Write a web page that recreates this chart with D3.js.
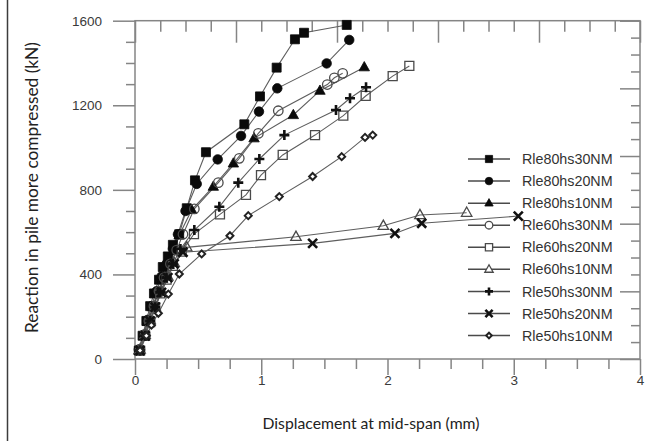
<!DOCTYPE html>
<html>
<head>
<meta charset="utf-8">
<script src="https://cdn.jsdelivr.net/npm/d3@7"></script>
<style>
html,body{margin:0;padding:0;background:#fff;}
svg{display:block;}
</style>
</head>
<body>
<svg id="chart" width="653" height="445"></svg>
<script>
// ---------------- DATA ----------------
const seriesNames = ["Rle80hs30NM","Rle80hs20NM","Rle80hs10NM","Rle60hs30NM","Rle60hs20NM","Rle60hs10NM","Rle50hs30NM","Rle50hs20NM","Rle50hs10NM"];
const markerTypes = ["square","circle","triangle","circle","square","triangle","plus","x","diamond"];
const markerFilled = [true,true,true,false,false,false,true,true,false];

const rle80hs30 = [[0.03,40],[0.06,110],[0.09,180],[0.12,250],[0.15,310],[0.19,375],[0.22,435],[0.26,485],[0.30,540],[0.35,590],[0.41,713],[0.475,845],[0.562,978],[0.866,1110],[0.99,1242],[1.122,1378],[1.267,1512],[1.339,1543],[1.677,1580]];
const rle80hs20 = [[0.03,45],[0.07,115],[0.10,185],[0.13,250],[0.17,320],[0.21,390],[0.25,450],[0.30,520],[0.34,590],[0.40,700],[0.489,828],[0.655,944],[0.84,1055],[0.982,1170],[1.127,1280],[1.518,1398],[1.697,1509]];
const rle80hs10 = [[0.03,40],[0.07,110],[0.10,175],[0.14,245],[0.18,315],[0.22,380],[0.27,445],[0.31,510],[0.35,585],[0.449,705],[0.62,815],[0.779,925],[0.943,1044],[1.254,1154],[1.465,1269],[1.816,1380]];
const rle60hs30 = [[0.04,45],[0.08,115],[0.11,180],[0.15,250],[0.19,320],[0.23,385],[0.28,450],[0.33,515],[0.38,590],[0.47,710],[0.66,834],[0.826,949],[0.977,1067],[1.135,1174],[1.523,1298],[1.579,1330],[1.645,1351]];
const rle60hs20 = [[0.04,40],[0.08,110],[0.12,175],[0.16,245],[0.20,310],[0.25,375],[0.30,440],[0.37,508],[0.467,591],[0.673,684],[0.879,776],[0.998,870],[1.17,965],[1.426,1059],[1.65,1151],[1.827,1244],[2.041,1338],[2.173,1386]];
const rle60hs10 = [[0.04,45],[0.08,115],[0.12,185],[0.16,250],[0.21,320],[0.26,390],[0.31,455],[0.41,528],[1.275,578],[1.967,630],[2.257,681],[2.627,692]];
const rle50hs30 = [[0.04,40],[0.08,110],[0.12,180],[0.16,245],[0.20,315],[0.25,385],[0.30,450],[0.36,520],[0.47,610],[0.668,720],[0.818,834],[0.985,946],[1.183,1059],[1.592,1178],[1.703,1233],[1.83,1285]];
const rle50hs20 = [[0.04,40],[0.08,110],[0.12,180],[0.16,245],[0.21,315],[0.26,385],[0.31,450],[0.38,505],[1.407,547],[2.059,594],[2.271,642],[3.036,676]];
const rle50hs10 = [[0.04,40],[0.09,110],[0.13,160],[0.185,216],[0.264,307],[0.351,402],[0.528,497],[0.752,583],[0.897,678],[1.143,768],[1.407,863],[1.637,957],[1.822,1048],[1.883,1059]];
const seriesData = [rle80hs30,rle80hs20,rle80hs10,rle60hs30,rle60hs20,rle60hs10,rle50hs30,rle50hs20,rle50hs10];

const xMajorTicks = [0,1,2,3,4];
const xMinorTicks = [0.25,0.5,0.75,1.25,1.5,1.75,2.25,2.5,2.75,3.25,3.5,3.75];
const yMajorTicks = [0,400,800,1200,1600];
const yMinorTicks = [100,200,300,500,600,700,900,1000,1100,1300,1400,1500];
// secondary (unlabelled) top/right axes
const topMajorTicks = [0,1,2,3,4,5];
const topMinorTicks = d3.range(0,5.001,0.25).filter(v=>v%1!==0);
const rightMajorTicks = [0,1,2,3,4,5];
const rightMinorTicks = d3.range(0,5.001,0.25).filter(v=>v%1!==0);

const xTitle = "Displacement at mid-span (mm)";
const yTitle = "Reaction in pile more compressed (kN)";

// ---------------- LAYOUT ----------------
const svg = d3.select("#chart");
const L = 135, R = 640, T = 20.7, B = 359;
const x = d3.scaleLinear().domain([0,4]).range([L,R]);
const y = d3.scaleLinear().domain([0,1600]).range([B,T]);
const x2 = d3.scaleLinear().domain([0,5]).range([L,R]);
const y2 = d3.scaleLinear().domain([0,5]).range([B,T]);

const axisColor = "#858585";
const textColor = "#3a3a3a";

// outer frame line on left
svg.append("line").attr("x1",7.5).attr("x2",7.5).attr("y1",0).attr("y2",441)
  .attr("stroke","#3c3c3c").attr("stroke-width",1.5);

function styleAxis(g){
  g.select(".domain").remove();
  g.selectAll(".tick line").attr("stroke",axisColor).attr("stroke-width",1.5);
}

// bottom axis
svg.append("g").attr("transform",`translate(0,${B})`)
  .call(d3.axisBottom(x).tickValues(xMajorTicks).tickSize(16).tickPadding(0).tickFormat(d3.format("d")))
  .call(styleAxis)
  .call(g=>g.selectAll("text").attr("fill",textColor).attr("font-family","Liberation Sans, Arial, sans-serif").attr("font-size",13.5));
svg.append("g").attr("transform",`translate(0,${B})`)
  .call(d3.axisBottom(x).tickValues(xMinorTicks).tickSize(10).tickFormat(""))
  .call(styleAxis);
// left axis
svg.append("g").attr("transform",`translate(${L},0)`)
  .call(d3.axisLeft(y).tickValues(yMajorTicks).tickSize(22).tickPadding(11).tickFormat(d3.format("d")))
  .call(styleAxis)
  .call(g=>g.selectAll("text").attr("fill",textColor).attr("font-family","Liberation Sans, Arial, sans-serif").attr("font-size",13.5));
svg.append("g").attr("transform",`translate(${L},0)`)
  .call(d3.axisLeft(y).tickValues(yMinorTicks).tickSize(9).tickFormat(""))
  .call(styleAxis);
// top axis (inward ticks)
svg.append("g").attr("transform",`translate(0,${T})`)
  .call(d3.axisBottom(x2).tickValues(topMajorTicks).tickSize(22).tickFormat(""))
  .call(styleAxis);
svg.append("g").attr("transform",`translate(0,${T})`)
  .call(d3.axisBottom(x2).tickValues(topMinorTicks).tickSize(11).tickFormat(""))
  .call(styleAxis);
// right axis (inward ticks)
svg.append("g").attr("transform",`translate(${R},0)`)
  .call(d3.axisLeft(y2).tickValues(rightMajorTicks).tickSize(20).tickFormat(""))
  .call(styleAxis);
svg.append("g").attr("transform",`translate(${R},0)`)
  .call(d3.axisLeft(y2).tickValues(rightMinorTicks).tickSize(9).tickFormat(""))
  .call(styleAxis);

// frame lines
svg.append("rect").attr("x",L).attr("y",T).attr("width",R-L).attr("height",B-T)
  .attr("fill","none").attr("stroke",axisColor).attr("stroke-width",1.5);

// ---------------- MARKERS ----------------
function markerPath(type, s){
  const h = s/2;
  switch(type){
    case "square": return `M${-h},${-h}H${h}V${h}H${-h}Z`;
    case "circle": { const p = d3.path(); p.arc(0,0,h,0,2*Math.PI); p.closePath(); return p.toString(); }
    case "triangle": return `M0,${-s*0.6}L${s*0.55},${s*0.38}L${-s*0.55},${s*0.38}Z`;
    case "plus": return `M${-h},0H${h}M0,${-h}V${h}`;
    case "x": return `M${-h},${-h}L${h},${h}M${h},${-h}L${-h},${h}`;
    case "diamond": return `M0,${-h}L${h},0L0,${h}L${-h},0Z`;
  }
}
const markerSize = {square:9,circle:9.5,triangle:9.5,plus:10,x:9,diamond:7};
function styleMarker(sel, type, filled){
  if(type==="plus"||type==="x"){
    sel.attr("fill","none").attr("stroke","#111").attr("stroke-width",2.6);
  } else if(filled){
    sel.attr("fill","#0a0a0a").attr("stroke","#0a0a0a").attr("stroke-width",0.8);
  } else if(type==="diamond"){
    sel.attr("fill","#fff").attr("stroke","#222").attr("stroke-width",2);
  } else {
    sel.attr("fill","none").attr("stroke","#4a4a4a").attr("stroke-width",1.3);
  }
}

const line = d3.line().x(d=>x(d[0])).y(d=>y(d[1]));
const plot = svg.append("g");
seriesData.forEach((data,i)=>{
  plot.append("path").datum(data).attr("d",line)
    .attr("fill","none").attr("stroke","#5e5e5e").attr("stroke-width",1.1);
});
seriesData.forEach((data,i)=>{
  const type = markerTypes[i];
  const sel = plot.selectAll(null).data(data).enter().append("path")
    .attr("transform",d=>`translate(${x(d[0])},${y(d[1])})`)
    .attr("d",markerPath(type, markerSize[type]));
  styleMarker(sel, type, markerFilled[i]);
});

// ---------------- LEGEND ----------------
const legY0 = 159, legStep = 22.07, legX1 = 468, legX2 = 510, legMX = 489, legTX = 522;
const leg = svg.append("g");
seriesNames.forEach((name,i)=>{
  const yy = legY0 + i*legStep;
  leg.append("line").attr("x1",legX1).attr("x2",legX2).attr("y1",yy).attr("y2",yy)
    .attr("stroke","#4a4a4a").attr("stroke-width",1.5);
  const type = markerTypes[i];
  const m = leg.append("path").attr("transform",`translate(${legMX},${yy})`)
    .attr("d",markerPath(type, markerSize[type]*0.8));
  styleMarker(m, type, markerFilled[i]);
  if(!markerFilled[i] && type!=="diamond") m.attr("fill","#fff");
  leg.append("text").attr("x",legTX).attr("y",yy).attr("dy","0.36em")
    .attr("font-family","Liberation Sans, Arial, sans-serif").attr("font-size",14.3)
    .attr("fill","#333").text(name);
});

// ---------------- TITLES ----------------
function fitText(t, target){
  const len = t.node().getComputedTextLength();
  const fs = parseFloat(t.attr("font-size"));
  t.attr("font-size", (fs*target/len).toFixed(2));
}
const xt = svg.append("text").attr("x",371).attr("y",429).attr("text-anchor","middle")
  .attr("font-family","Lato, 'Open Sans', sans-serif").attr("font-size",14).attr("fill","#222").text(xTitle);
fitText(xt, 217);
const yt = svg.append("text").attr("transform","translate(38,187.5) rotate(-90)").attr("text-anchor","middle")
  .attr("font-family","Lato, 'Open Sans', sans-serif").attr("font-size",14).attr("fill","#222").text(yTitle);
fitText(yt, 291);
</script>
</body>
</html>
